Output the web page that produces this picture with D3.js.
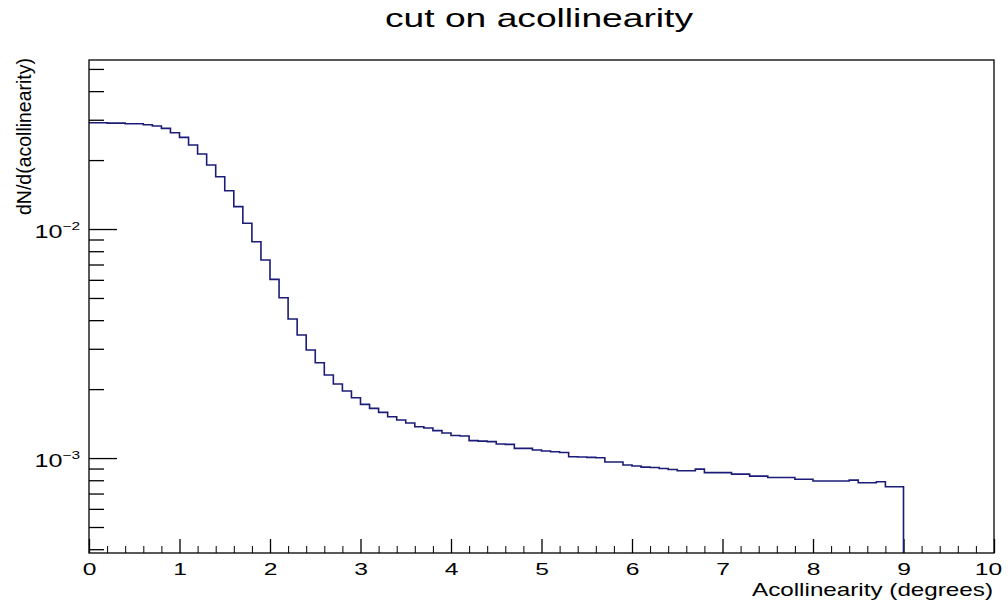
<!DOCTYPE html>
<html>
<head>
<meta charset="utf-8">
<script src="https://cdn.jsdelivr.net/npm/d3@7"></script>
<style>
    body { margin: 0; background: #fff; }
    svg { display: block; font-family: 'Liberation Sans', Arial, sans-serif; }
</style>
</head>
<body>
<svg id="chart" width="1008" height="600"></svg>
<script>

// Histogram: 90 bins of 0.1 degree from 0 to 9
const binStart = 0,
    binWidth = 0.1;

const counts = [
    0.0291, 0.0291, 0.0290, 0.0290, 0.0288, 0.0288, 0.02853, 0.02817, 0.02752, 0.02633,
    0.02514, 0.02327, 0.02126, 0.01904, 0.01692, 0.01470, 0.01252, 0.01059, 0.00880, 0.00732,
    0.00603, 0.00501, 0.004046, 0.003444, 0.002962, 0.002608, 0.002304, 0.002104, 0.001962, 0.001834,
    0.001716, 0.001648, 0.001583, 0.001515, 0.001466, 0.001422, 0.001370, 0.001352, 0.001318, 0.001286,
    0.001254, 0.001248, 0.001192, 0.001186, 0.001180, 0.001151, 0.001148, 0.001102, 0.001102, 0.001084,
    0.001073, 0.001065, 0.001057, 0.001013, 0.001010, 0.001007, 0.001003, 0.000961, 0.000961, 0.000932,
    0.000923, 0.000913, 0.000909, 0.000900, 0.000891, 0.000880, 0.000880, 0.000895, 0.000864, 0.000864,
    0.000864, 0.000851, 0.000851, 0.000834, 0.000834, 0.000822, 0.000822, 0.000822, 0.000808, 0.000808,
    0.000794, 0.000794, 0.000794, 0.000794, 0.000801, 0.000780, 0.000780, 0.000788, 0.000749, 0.000749
];

// Axis ranges and ticks
const xDomain = [0, 10],
    yDomain = [3.85e-4, 5.47e-2],
    xMajorTicks = [0, 1, 2, 3, 4, 5, 6, 7, 8, 9, 10],
    xMinorTicks = [0.2, 0.4, 0.6, 0.8],
    yMajorTicks = [1e-3, 1e-2],
    yMajorExp = ['\u22123', '\u22122'],
    yMinorTicks = [4e-4, 5e-4, 6e-4, 7e-4, 8e-4, 9e-4, 2e-3, 3e-3, 4e-3, 5e-3, 6e-3, 7e-3, 8e-3, 9e-3, 2e-2, 3e-2, 4e-2, 5e-2];

const title = 'cut on acollinearity',
    xTitle = 'Acollinearity (degrees)',
    yTitle = 'dN/d(acollinearity)';

const LINE_COLOR = '#1c1c78';

// Frame
const frame = { left: 89, right: 994, top: 60, bottom: 553 };

const svg = d3.select('#chart');

const xScale = d3.scaleLinear().domain(xDomain).range([frame.left, frame.right]);
const yScale = d3.scaleLog().domain(yDomain).range([frame.bottom, frame.top]);

// X axis: major + minor ticks pointing inside
const xMinorAll = [];
xMajorTicks.slice(0, -1).forEach((t) => xMinorTicks.forEach((m) => xMinorAll.push(t + m)));

svg.append('g')
    .attr('transform', 'translate(0,' + frame.bottom + ')')
    .call(d3.axisBottom(xScale).tickValues(xMinorAll).tickSize(-7).tickSizeOuter(0).tickFormat(''))
    .call((g) => g.select('.domain').remove());

const xAxis = svg.append('g')
    .attr('transform', 'translate(0,' + frame.bottom + ')')
    .call(d3.axisBottom(xScale).tickValues(xMajorTicks).tickSize(-14).tickSizeOuter(0).tickPadding(10).tickFormat(d3.format('d')));
xAxis.select('.domain').remove();
xAxis.selectAll('.tick line').attr('stroke', '#000').attr('stroke-width', 1.3);
xAxis.selectAll('.tick text')
    .attr('font-size', 17)
    .attr('font-family', "'Liberation Sans', Arial, sans-serif")
    .attr('fill', '#000')
    .attr('transform', (d) => d === 10 ? 'translate(-6,0) scale(1.45,1)' : 'scale(1.45,1)');

// Y axis: log ticks
svg.append('g')
    .attr('transform', 'translate(' + frame.left + ',0)')
    .call(d3.axisLeft(yScale).tickValues(yMinorTicks).tickSize(-15).tickSizeOuter(0).tickFormat(''))
    .call((g) => g.select('.domain').remove())
    .call((g) => g.selectAll('.tick line').attr('stroke-width', 1.3));

const yAxis = svg.append('g')
    .attr('transform', 'translate(' + frame.left + ',0)')
    .call(d3.axisLeft(yScale).tickValues(yMajorTicks).tickSize(-28).tickSizeOuter(0).tickFormat(''));
yAxis.select('.domain').remove();
yAxis.selectAll('.tick line').attr('stroke-width', 1.3);
yAxis.selectAll('.tick text').each(function (d, i) {
    const t = d3.select(this)
        .attr('x', null)
        .attr('dy', null)
        .attr('y', 8)
        .attr('fill', '#000')
        .attr('text-anchor', 'end')
        .attr('font-family', "'Liberation Sans', Arial, sans-serif")
        .attr('transform', 'translate(-9,0) scale(1.4,1)');
    t.append('tspan').attr('font-size', 18).text('10');
    t.append('tspan').attr('font-size', 11).attr('dy', -8).text(yMajorExp[i]);
});

// Histogram outline
const points = counts.map((c, i) => [binStart + i * binWidth, c]);
points.push([binStart + counts.length * binWidth, counts[counts.length - 1]]);
points.push([binStart + counts.length * binWidth, yDomain[0]]);

const line = d3.line()
    .curve(d3.curveStepAfter)
    .x((p) => xScale(p[0]))
    .y((p) => yScale(p[1]));

svg.append('path')
    .datum(points)
    .attr('d', line)
    .attr('fill', 'none')
    .attr('stroke', LINE_COLOR)
    .attr('stroke-width', 1.6);

// Frame box
svg.append('rect')
    .attr('x', frame.left)
    .attr('y', frame.top)
    .attr('width', frame.right - frame.left)
    .attr('height', frame.bottom - frame.top)
    .attr('fill', 'none')
    .attr('stroke', '#000')
    .attr('stroke-width', 1.3);

// Titles
svg.append('text')
    .attr('x', 539)
    .attr('y', 27)
    .attr('text-anchor', 'middle')
    .attr('font-size', 26)
    .attr('textLength', 308)
    .attr('lengthAdjust', 'spacingAndGlyphs')
    .text(title);

svg.append('text')
    .attr('x', 993)
    .attr('y', 596)
    .attr('text-anchor', 'end')
    .attr('font-size', 19)
    .attr('textLength', 241)
    .attr('lengthAdjust', 'spacingAndGlyphs')
    .text(xTitle);

svg.append('text')
    .attr('transform', 'translate(31,58) rotate(-90)')
    .attr('text-anchor', 'end')
    .attr('font-size', 20)
    .attr('textLength', 157)
    .attr('lengthAdjust', 'spacingAndGlyphs')
    .text(yTitle);

</script>
</body>
</html>
